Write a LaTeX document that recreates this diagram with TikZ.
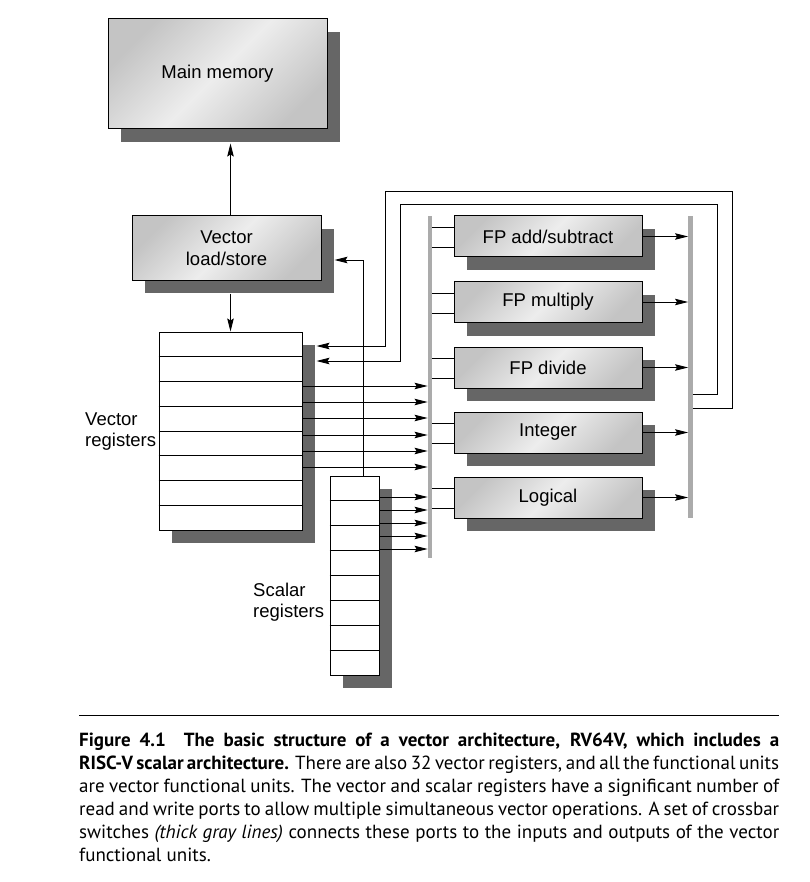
\documentclass[tikz,border=0pt]{standalone}
\usepackage{fontspec}
\newfontfamily\diafont{Liberation Sans}
\newfontfamily\capfont{PT Sans}
\usetikzlibrary{arrows.meta,shadows,calc}
\definecolor{boxdark}{HTML}{C4C4C4}
\definecolor{boxlight}{HTML}{EDEDED}
\definecolor{shadowgray}{HTML}{666666}
\definecolor{xbargray}{HTML}{ABABAB}
% diagonal sheen on the unit boxes: light band along one diagonal
\pgfdeclarehorizontalshading{sheen}{100bp}{color(0bp)=(boxdark); color(25bp)=(boxdark); color(50bp)=(boxlight); color(75bp)=(boxdark); color(100bp)=(boxdark)}

\begin{document}
\begin{tikzpicture}[x=1pt,y=-1pt,
  boxshadow/.style={drop shadow={shadow xshift=13pt,shadow yshift=-13pt,fill=shadowgray,opacity=1}},
  unitbox/.style={boxshadow,draw=black,line width=1pt,shading=sheen,shading angle=-45,
    inner sep=0pt,align=center,font={\diafont\fontsize{18.5}{22.5}\selectfont}},
  regbox/.style={boxshadow,draw=black,line width=1pt,fill=white,inner sep=0pt},
  fubox/.style={unitbox,minimum width=188pt,minimum height=41pt},
  xbar/.style={fill=xbargray,draw=none,minimum width=4.5pt,inner sep=0pt},
  lbl/.style={inner sep=0pt,align=left,font={\diafont\fontsize{18.5}{21}\selectfont}},
  wire/.style={line width=0.9pt},
  port/.style={wire,-{Stealth[length=13pt,width=6.5pt,inset=2pt]}}]

\fill[white] (0,0) rectangle (809,882);
\useasboundingbox (0,0) rectangle (809,882);

% memory and load/store unit
\node[unitbox,minimum width=219pt,minimum height=110pt] (mm) at (217.5,74) {Main memory};
\node[unitbox,minimum width=189pt,minimum height=64pt] (ls) at (226.5,248) {Vector\\load/store};

% register files
\node[regbox,minimum width=143pt,minimum height=198pt] (vr) at (230.5,431) {};
\node[regbox,minimum width=49pt,minimum height=199pt] (sr) at (354.5,575.5) {};
\foreach \k in {1,...,7} {
  \draw[wire] ($(vr.north west)!\k/8!(vr.south west)$) -- ($(vr.north east)!\k/8!(vr.south east)$);
  \draw[wire] ($(sr.north west)!\k/8!(sr.south west)$) -- ($(sr.north east)!\k/8!(sr.south east)$);
}
\node[lbl,anchor=base west] (vrl) at (85,446) {Vector\\registers};
\node[lbl,anchor=base west] (srl) at (253,617) {Scalar\\registers};

% functional units
\node[fubox] (fadd) at (548,236.5) {FP add/subtract};
\node[fubox] (fmul) at (548,302) {FP multiply};
\node[fubox] (fdiv) at (548,367.5) {FP divide};
\node[fubox] (fint) at (548,432.5) {Integer};
\node[fubox] (flog) at (548,497.5) {Logical};

% crossbar switches
\node[xbar,minimum height=342pt] (xl) at (430,387) {};
\node[xbar,minimum height=302pt] (xr) at (690.5,367) {};

% memory paths
\coordinate (mmfoot) at ([yshift=-14pt]mm.south);
\coordinate (lsfoot) at ([yshift=-13pt]ls.south);
\coordinate (lsside) at ([xshift=13pt]ls.east);
\coordinate (vrside) at ([xshift=14pt]vr.east);
\draw[port] (ls.north -| vr.north) -- (mmfoot -| vr.north);
\draw[port] (lsfoot -| vr.north) -- (vr.north);
\draw[port] (sr.north -| 363,0) |- (lsside |- 0,260);

% register read ports into the input crossbar
\foreach \y in {386,402,418,435,451,467}
  \draw[port] (vr.east |- 0,\y) -- (xl.west |- 0,\y);
\foreach \y in {497,510,523,536,549}
  \draw[port] (sr.east |- 0,\y) -- (xl.west |- 0,\y);

% unit inputs and outputs
\foreach \f in {fadd,fmul,fdiv,fint,flog} {
  \coordinate (ia) at ([yshift=-12pt]\f.north west);
  \coordinate (ib) at ([yshift=10pt]\f.south west);
  \draw[wire] (ia) -- (ia -| xl.east);
  \draw[wire] (ib) -- (ib -| xl.east);
  \draw[port] (\f.east) -- (\f.east -| xr.west);
}

% write-back loops into the vector registers
\draw[port] (xr.east |- 0,408) -| (732,191) -| (385,346) -- (vrside |- 0,346);
\draw[port] (xr.east |- 0,394) -| (717,204) -| (400,361) -- (vrside |- 0,361);

% caption
\coordinate (ruleL) at (79,715);
\coordinate (ruleR) at (779,715);
\draw[line width=1pt] (ruleL) -- (ruleR);
\node[anchor=base west,text width=700pt,align=justify,inner sep=0pt,
  font={\capfont\fontsize{19}{23}\selectfont\hyphenpenalty=10000\tolerance=9999}] (cap) at (79,746)
{{\bfseries Figure 4.1\ \ The basic structure of a vector architecture, RV64V, which includes a}\linebreak
{\bfseries RISC-V scalar architecture.} There are also 32 vector registers, and all the functional units\linebreak
are vector functional units. The vector and scalar registers have a significant number of\linebreak
read and write ports to allow multiple simultaneous vector operations. A set of crossbar\linebreak
switches \textit{(thick gray lines)} connects these ports to the inputs and outputs of the vector\linebreak
functional units.};
\end{tikzpicture}
\end{document}
